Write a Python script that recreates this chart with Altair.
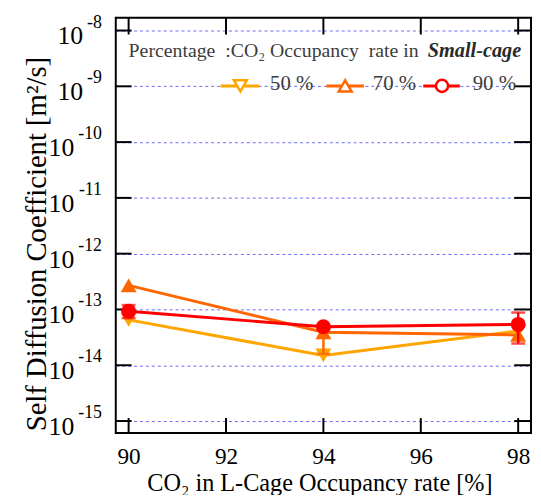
import altair as alt
import pandas as pd

# ---- data ----
occupancy = [90, 94, 98]
series_names = ["50 %", "70 %", "90 %"]
series_colors = ["#FFA500", "#FF6600", "#FF0000"]
series_shapes = ["triangle-down", "triangle-up", "circle"]
diff_50 = [6.5e-14, 1.5e-14, 4.1e-14]
diff_70 = [2.7e-13, 3.9e-14, 3.5e-14]
diff_90 = [9.3e-14, 4.9e-14, 5.4e-14]

err_series = ["70 %", "90 %", "90 %"]
err_x = [94, 90, 98]
err_lo = [1.6e-14, 7.0e-14, 2.45e-14]
err_hi = [4.4e-14, 1.2e-13, 8.8e-14]

x_ticks = [90, 92, 94, 96, 98]
y_exponents = [-8, -9, -10, -11, -12, -13, -14, -15]

FONT = "Liberation Serif"
W, H = 420, 420
NB = "\u00a0"

series_values = {"50 %": diff_50, "70 %": diff_70, "90 %": diff_90}

xscale = alt.Scale(domain=[89.736, 98.264], nice=False, zero=False)
yscale = alt.Scale(type="log", domain=[6.12e-16, 1.70e-8], nice=False)

x_axis = alt.Axis(
    values=x_ticks, ticks=False, tickSize=0, domain=False, grid=False,
    labelFont=FONT, labelFontSize=23.5, labelColor="black",
    labelBaseline="alphabetic", labelPadding=31, labelFlush=False,
    title="CO₂ in L-Cage Occupancy rate [%]", titleFont=FONT,
    titleFontSize=24.5, titleFontWeight="normal", titleColor="black",
    titleBaseline="alphabetic", titleY=58, titleX=206)
y_axis = alt.Axis(
    values=[10.0 ** e for e in y_exponents], labels=False, ticks=False,
    domain=False, grid=True, gridColor="#6a6aff", gridDash=[3, 3],
    gridWidth=1, title=None)

def X(field):
    return alt.X(field, type="quantitative", scale=xscale, axis=x_axis)

def Y(field):
    return alt.Y(field, type="quantitative", scale=yscale, axis=y_axis)

tick_df = pd.DataFrame({"t": x_ticks})
dec_df = pd.DataFrame({"e": y_exponents, "v": [10.0 ** e for e in y_exponents],
                       "ten": ["10"] * len(y_exponents),
                       "lab": [str(e) for e in y_exponents]})

layers = []

# inner ticks
tick_style = dict(color="black", strokeWidth=2)
layers.append(alt.Chart(tick_df).mark_rule(**tick_style).encode(
    x=X("t:Q"), y=alt.value(H), y2=alt.value(H - 15)))
layers.append(alt.Chart(tick_df).mark_rule(**tick_style).encode(
    x=X("t:Q"), y=alt.value(0), y2=alt.value(17)))
layers.append(alt.Chart(dec_df).mark_rule(**tick_style).encode(
    y=Y("v:Q"), x=alt.value(0), x2=alt.value(16)))
layers.append(alt.Chart(dec_df).mark_rule(**tick_style).encode(
    y=Y("v:Q"), x=alt.value(W), x2=alt.value(W - 17)))

# y tick labels "10" + exponent
short = dec_df[dec_df["e"] > -10]
long_ = dec_df[dec_df["e"] <= -10]
for sub, xr in [(short, -33), (long_, -42)]:
    layers.append(alt.Chart(sub).mark_text(
        font=FONT, fontSize=26, align="right", baseline="alphabetic", dy=14,
        color="black").encode(y=Y("v:Q"), x=alt.value(xr), text="ten:N"))
layers.append(alt.Chart(dec_df).mark_text(
    font=FONT, fontSize=18, align="right", baseline="alphabetic", dy=-3,
    color="black").encode(y=Y("v:Q"), x=alt.value(-14), text="lab:N"))

# y axis title
layers.append(alt.Chart(pd.DataFrame({"t": ["Self Diffusion Coefficient [m²/s]"]})).mark_text(
    font=FONT, fontSize=29, angle=270, align="center", baseline="alphabetic",
    color="black").encode(x=alt.value(-71), y=alt.value(229), text="t:N"))

# data series
for name, color, shape in zip(series_names, series_colors, series_shapes):
    df = pd.DataFrame({"x": occupancy, "value": series_values[name]})
    layers.append(alt.Chart(df).mark_line(color=color, strokeWidth=3).encode(
        x=X("x:Q"), y=Y("value:Q")))
    edf = pd.DataFrame({"s": err_series, "x": err_x, "lo": err_lo, "hi": err_hi})
    edf = edf[edf["s"] == name]
    if len(edf):
        layers.append(alt.Chart(edf).mark_rule(color=color, strokeWidth=2.5).encode(
            x=X("x:Q"), y=Y("lo:Q"), y2="hi:Q"))
        for fld in ["lo", "hi"]:
            layers.append(alt.Chart(edf).mark_tick(
                color=color, orient="horizontal", size=14, thickness=2.5).encode(
                x=X("x:Q"), y=Y(fld + ":Q")))
    layers.append(alt.Chart(df).mark_point(
        shape=shape, filled=True, color=color, opacity=1,
        size=230 if shape == "circle" else 260).encode(
        x=X("x:Q"), y=Y("value:Q")))

# legend
legend_title = "Percentage" + NB + " :CO₂ Occupancy" + NB + " rate in"
layers.append(alt.Chart(pd.DataFrame({"t": [legend_title]})).mark_text(
    font=FONT, fontSize=20, align="left", baseline="alphabetic", color="#3c3c3c").encode(
    x=alt.value(13), y=alt.value(40), text="t:N"))
layers.append(alt.Chart(pd.DataFrame({"t": ["Small-cage"]})).mark_text(
    font=FONT, fontSize=20.5, fontWeight="bold", fontStyle="italic", align="right",
    baseline="alphabetic", color="#2a2a2a").encode(
    x=alt.value(410), y=alt.value(40), text="t:N"))

legend_line_x = [(106, 145, 126, 156), (213, 251, 232, 260), (311, 348, 330, 361)]
for (x1, x2, xm, xl), name, color, shape in zip(legend_line_x, series_names, series_colors, series_shapes):
    one = pd.DataFrame({"t": [name]})
    layers.append(alt.Chart(one).mark_rule(color=color, strokeWidth=3).encode(
        x=alt.value(x1), x2=alt.value(x2), y=alt.value(69)))
    layers.append(alt.Chart(one).mark_point(
        shape=shape, filled=True, fill="white", stroke=color, strokeWidth=2.5,
        opacity=1, size=150 if shape == "circle" else 170).encode(
        x=alt.value(xm), y=alt.value(69)))
    layers.append(alt.Chart(one).mark_text(
        font=FONT, fontSize=21, align="left", baseline="alphabetic", color="#3c3c3c").encode(
        x=alt.value(xl), y=alt.value(73), text="t:N"))

chart = alt.layer(*layers).properties(
    width=W, height=H,
    autosize=alt.AutoSizeParams(type="none"),
    padding={"left": 109, "top": 7, "right": 2, "bottom": 60},
).configure_view(stroke="black", strokeWidth=2)

chart.save("out.html", embed_options={"renderer": "svg", "actions": False})
